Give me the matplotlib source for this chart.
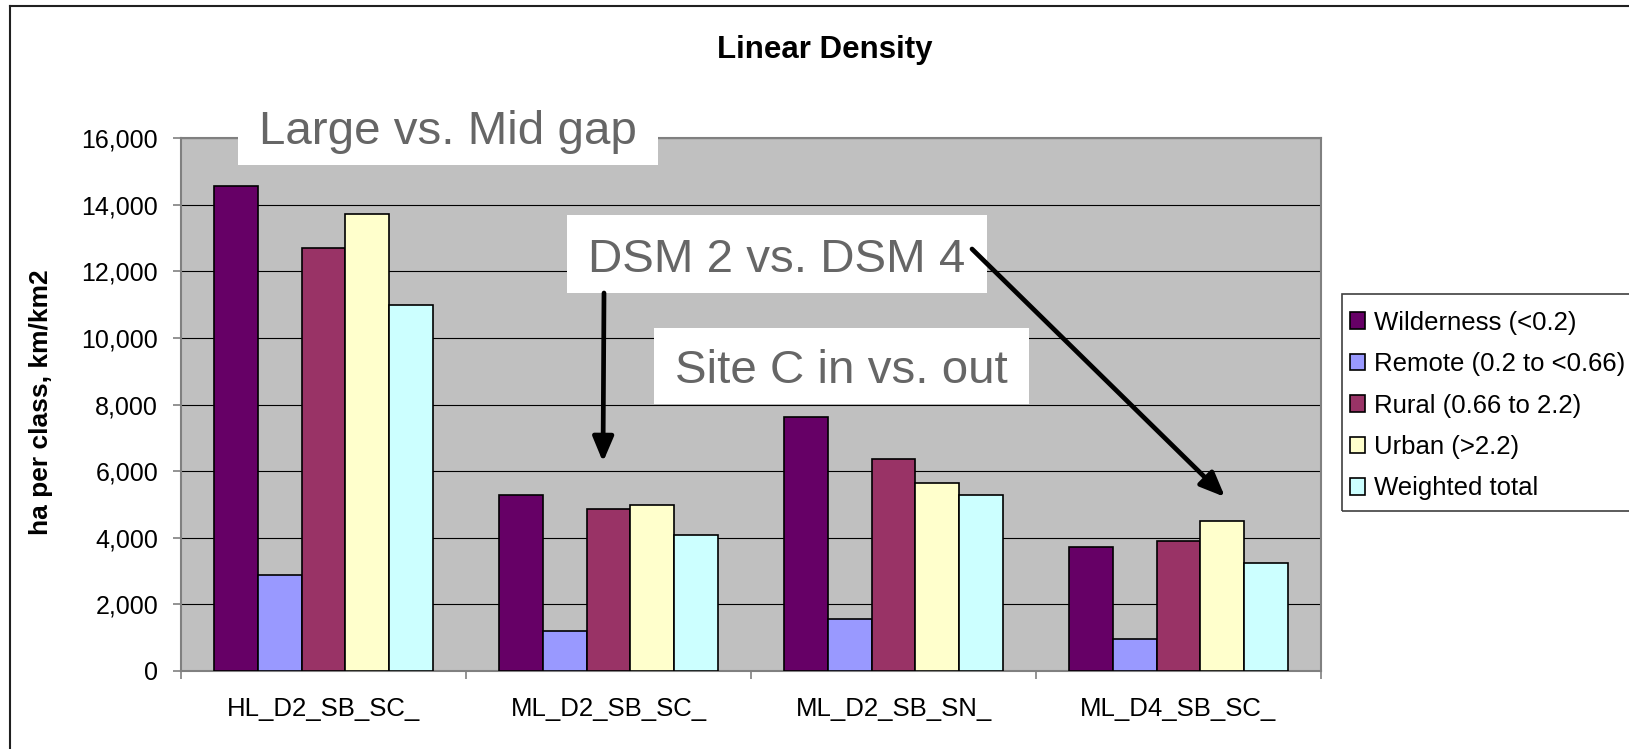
import matplotlib
matplotlib.use("Agg")
import matplotlib.pyplot as plt
from matplotlib.patches import Rectangle, FancyArrowPatch
from matplotlib.lines import Line2D
from matplotlib.ticker import FuncFormatter
import numpy as np

plt.rcParams['font.family'] = ['Liberation Sans', 'DejaVu Sans']

categories = ["HL_D2_SB_SC_", "ML_D2_SB_SC_", "ML_D2_SB_SN_", "ML_D4_SB_SC_"]
series_names = ["Wilderness (<0.2)", "Remote (0.2 to <0.66)", "Rural (0.66 to 2.2)",
                "Urban (>2.2)", "Weighted total"]
wilderness = [14550, 5280, 7630, 3730]
remote = [2880, 1200, 1550, 950]
rural = [12700, 4860, 6370, 3900]
urban = [13720, 4980, 5630, 4500]
weighted = [10980, 4080, 5280, 3250]
series_values = [wilderness, remote, rural, urban, weighted]
series_colors = ["#660066", "#9999FF", "#993366", "#FFFFCC", "#CCFFFF"]
y_ticks = [0, 2000, 4000, 6000, 8000, 10000, 12000, 14000, 16000]

W, H = 1629, 749
fig = plt.figure(figsize=(W / 100, H / 100), dpi=100)
fig.patch.set_facecolor("white")


def fx(px):
    return px / W


def fy(py):
    return 1 - py / H


# plot area
ax = fig.add_axes([fx(181), fy(671), fx(1321) - fx(181), fy(138) - fy(671)])
ax.set_facecolor("#C0C0C0")

x = np.arange(len(categories))
n = len(series_values)
bw = 1 / 6.5
for i, (vals, name, col) in enumerate(zip(series_values, series_names, series_colors)):
    ax.bar(x + (i - (n - 1) / 2) * bw, vals, width=bw, color=col, edgecolor="black",
           linewidth=1.2, label=name, zorder=3)

ax.set_xlim(-0.5, len(categories) - 0.5)
ax.set_ylim(0, 16000)
ax.set_yticks(y_ticks)
ax.yaxis.set_major_formatter(FuncFormatter(lambda v, p: f"{int(v):,}"))
ax.yaxis.grid(True, color="black", linewidth=0.8, zorder=1)
ax.set_axisbelow(True)

ax.set_xticks(x)
ax.set_xticklabels(categories, fontsize=18.5)
ax.tick_params(axis="x", length=0, pad=19)
ax.set_xticks(np.arange(len(categories) + 1) - 0.5, minor=True)
ax.tick_params(axis="x", which="minor", length=6, color="#808080", width=1.2, direction="out")
ax.tick_params(axis="y", labelsize=18, length=6, color="#808080", width=1.2, pad=10.5)

for s in ax.spines.values():
    s.set_color("#808080")
    s.set_linewidth(1.5)

ax.set_ylabel("ha per class, km/km2", fontsize=19, fontweight="bold")
ax.yaxis.set_label_coords(fx(53), fy(402), transform=fig.transFigure)

fig.text(fx(825), fy(50), "Linear Density", fontsize=22.5, fontweight="bold",
         ha="center", va="center")

leg = ax.legend(loc="upper left", bbox_to_anchor=(fx(1338), fy(299)),
                bbox_transform=fig.transFigure, borderaxespad=0, fontsize=18.5,
                handlelength=0.6, handleheight=0.6, handletextpad=0.35,
                labelspacing=0.68, borderpad=0.45, frameon=False)
# legend frame runs past the right edge of the chart
fig.add_artist(Rectangle((fx(1342), fy(511)), fx(1700) - fx(1342), fy(294) - fy(511),
                         transform=fig.transFigure, facecolor="none",
                         edgecolor="#404040", lw=1.2, zorder=4))

# outer chart border (top and left)
fig.add_artist(Line2D([fx(10), 1], [fy(6), fy(6)], transform=fig.transFigure,
                      color="#202020", lw=1.5))
fig.add_artist(Line2D([fx(10), fx(10)], [fy(6), 0], transform=fig.transFigure,
                      color="#202020", lw=1.5))

# callout boxes
callouts = [
    ("Large vs. Mid gap", (238, 100, 658, 165), 259, 144),
    ("DSM 2 vs. DSM 4", (567, 215, 987, 293), 588, 272),
    ("Site C in vs. out", (654, 328, 1029, 404), 675, 383),
]
for text, (x0, y0, x1, y1), tx, ty in callouts:
    fig.add_artist(Rectangle((fx(x0), fy(y1)), fx(x1) - fx(x0), fy(y0) - fy(y1),
                             transform=fig.transFigure, facecolor="white",
                             edgecolor="none", zorder=5))
    fig.text(fx(tx), fy(ty), text, fontsize=34.2, color="#666666", ha="left",
             va="baseline", zorder=6)

arrows = [((604, 293), (603, 462)), ((972, 249), (1225, 497))]
for (sx, sy), (ex, ey) in arrows:
    fig.add_artist(FancyArrowPatch((fx(sx), fy(sy)), (fx(ex), fy(ey)),
                                   transform=fig.transFigure,
                                   arrowstyle="-|>,head_length=1.0,head_width=0.42",
                                   mutation_scale=15, lw=3.4, color="black",
                                   shrinkA=0, shrinkB=0, zorder=7))

fig.savefig("out.png", dpi=100)
